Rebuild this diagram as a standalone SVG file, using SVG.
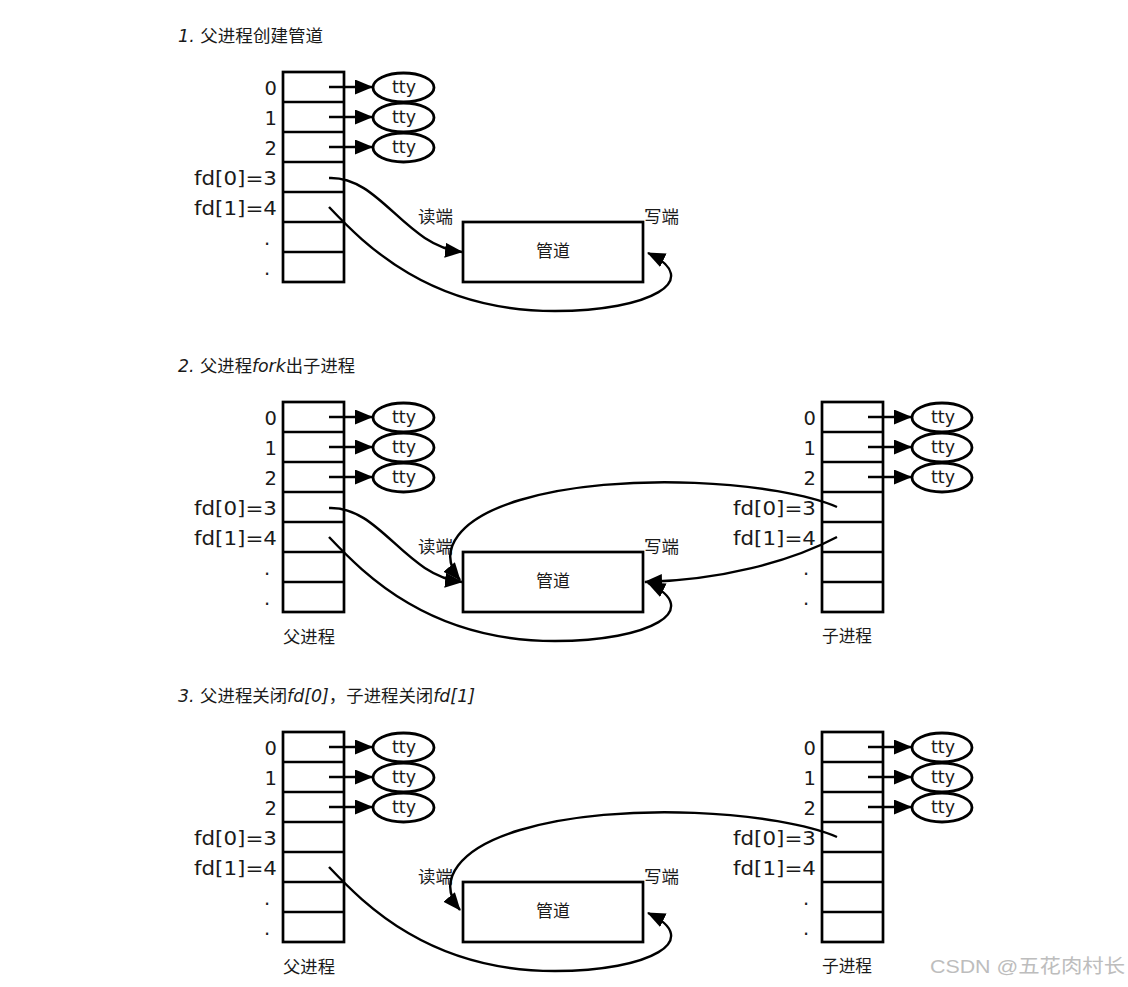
<svg xmlns="http://www.w3.org/2000/svg" width="1128" height="987" viewBox="0 0 1128 987">
<style>
.bg{fill:#fff}
.box{fill:none;stroke:#000;stroke-width:2.7}
.el{fill:#fff;stroke:#000;stroke-width:2.8}
.ln{fill:none;stroke:#000;stroke-width:2.4}
.lbl{font-family:"DejaVu Sans","Noto Sans",sans-serif;font-size:19.5px;fill:#1a1a1a}
.num{text-anchor:end}
.dot{text-anchor:middle}
.tty{font-family:"DejaVu Sans","Noto Sans",sans-serif;font-size:17.5px;fill:#1a1a1a;text-anchor:middle}
.cjk{font-family:"Noto Sans CJK SC","DejaVu Sans",sans-serif;font-size:17px;fill:#1a1a1a}
.title{font-family:"DejaVu Sans","Noto Sans CJK SC",sans-serif;font-size:17px;fill:#1a1a1a}
.it{font-style:italic}
.wm{font-family:"Liberation Sans","Noto Sans CJK SC",sans-serif;font-size:19px;fill:#bdbdbd}
</style>
<defs>
<marker id="ah" markerUnits="userSpaceOnUse" markerWidth="20" markerHeight="17" refX="17" refY="7.5" orient="auto">
<path d="M0,0 L18,7.5 L0,15 z" fill="#000"/>
</marker>
</defs>
<rect class="bg" x="0" y="0" width="1128" height="987"/>

<!-- ============ PANEL 1 ============ -->
<g id="panel1">
<text id="title1" class="title" x="178" y="42" textLength="145" lengthAdjust="spacingAndGlyphs"><tspan class="it">1.</tspan> 父进程创建管道</text>
<g id="p1-parent">
<rect class="box" x="283" y="72" width="61" height="210"/>
<path class="box" d="M283,102H344M283,132H344M283,162H344M283,192H344M283,222H344M283,252H344"/>
<text class="lbl num" x="277" y="95">0</text>
<text class="lbl num" x="277" y="125">1</text>
<text class="lbl num" x="277" y="155">2</text>
<text class="lbl" x="194" y="185" textLength="83" lengthAdjust="spacingAndGlyphs">fd[0]=3</text>
<text class="lbl" x="194" y="215" textLength="83" lengthAdjust="spacingAndGlyphs">fd[1]=4</text>
<text class="lbl dot" x="267" y="245">.</text>
<text class="lbl dot" x="267" y="275">.</text>
</g>
<g id="p1-tty0"><ellipse class="el" cx="403.5" cy="87.5" rx="30.5" ry="14.5"/><text class="tty" x="404" y="93">tty</text></g>
<g id="p1-tty1"><ellipse class="el" cx="403.5" cy="117.5" rx="30.5" ry="14.5"/><text class="tty" x="404" y="123">tty</text></g>
<g id="p1-tty2"><ellipse class="el" cx="403.5" cy="147.5" rx="30.5" ry="14.5"/><text class="tty" x="404" y="153">tty</text></g>
<g id="p1-pipe">
<rect class="box" x="463" y="222" width="180" height="60"/>
<text class="cjk" x="536" y="257" textLength="34" lengthAdjust="spacingAndGlyphs">管道</text>
<text class="cjk" x="418" y="223" textLength="35" lengthAdjust="spacingAndGlyphs">读端</text>
<text class="cjk" x="644" y="223" textLength="35" lengthAdjust="spacingAndGlyphs">写端</text>
</g>
<g id="p1-connectors">
<path class="ln" marker-end="url(#ah)" d="M329,87H372"/>
<path class="ln" marker-end="url(#ah)" d="M329,117H372"/>
<path class="ln" marker-end="url(#ah)" d="M329,147H372"/>
<path class="ln" marker-end="url(#ah)" d="M329,178 C380,176 405,246 462,252"/>
<path class="ln" marker-end="url(#ah)" d="M329,207 C365,245 430,311 555,311 C650,311 705,280 648,253"/>
</g>
</g>

<!-- ============ PANEL 2 ============ -->
<g id="panel2" transform="translate(0,330)">
<text id="title2" class="title" x="178" y="42" textLength="177" lengthAdjust="spacingAndGlyphs"><tspan class="it">2.</tspan> 父进程<tspan class="it">fork</tspan>出子进程</text>
<g id="p2-parent">
<rect class="box" x="283" y="72" width="61" height="210"/>
<path class="box" d="M283,102H344M283,132H344M283,162H344M283,192H344M283,222H344M283,252H344"/>
<text class="lbl num" x="277" y="95">0</text>
<text class="lbl num" x="277" y="125">1</text>
<text class="lbl num" x="277" y="155">2</text>
<text class="lbl" x="194" y="185" textLength="83" lengthAdjust="spacingAndGlyphs">fd[0]=3</text>
<text class="lbl" x="194" y="215" textLength="83" lengthAdjust="spacingAndGlyphs">fd[1]=4</text>
<text class="lbl dot" x="267" y="245">.</text>
<text class="lbl dot" x="267" y="275">.</text>
<text class="cjk" x="283" y="313" textLength="52" lengthAdjust="spacingAndGlyphs">父进程</text>
</g>
<g id="p2-ptty0"><ellipse class="el" cx="403.5" cy="87.5" rx="30.5" ry="14.5"/><text class="tty" x="404" y="93">tty</text></g>
<g id="p2-ptty1"><ellipse class="el" cx="403.5" cy="117.5" rx="30.5" ry="14.5"/><text class="tty" x="404" y="123">tty</text></g>
<g id="p2-ptty2"><ellipse class="el" cx="403.5" cy="147.5" rx="30.5" ry="14.5"/><text class="tty" x="404" y="153">tty</text></g>
<g id="p2-child">
<rect class="box" x="822" y="72" width="61" height="210"/>
<path class="box" d="M822,102H883M822,132H883M822,162H883M822,192H883M822,222H883M822,252H883"/>
<text class="lbl num" x="816" y="95">0</text>
<text class="lbl num" x="816" y="125">1</text>
<text class="lbl num" x="816" y="155">2</text>
<text class="lbl" x="733" y="185" textLength="83" lengthAdjust="spacingAndGlyphs">fd[0]=3</text>
<text class="lbl" x="733" y="215" textLength="83" lengthAdjust="spacingAndGlyphs">fd[1]=4</text>
<text class="lbl dot" x="806" y="245">.</text>
<text class="lbl dot" x="806" y="275">.</text>
<text class="cjk" x="822" y="312" textLength="50" lengthAdjust="spacingAndGlyphs">子进程</text>
</g>
<g id="p2-ctty0"><ellipse class="el" cx="942" cy="87.5" rx="30" ry="14.5"/><text class="tty" x="943" y="93">tty</text></g>
<g id="p2-ctty1"><ellipse class="el" cx="942" cy="117.5" rx="30" ry="14.5"/><text class="tty" x="943" y="123">tty</text></g>
<g id="p2-ctty2"><ellipse class="el" cx="942" cy="147.5" rx="30" ry="14.5"/><text class="tty" x="943" y="153">tty</text></g>
<g id="p2-pipe">
<rect class="box" x="463" y="222" width="180" height="60"/>
<text class="cjk" x="536" y="257" textLength="34" lengthAdjust="spacingAndGlyphs">管道</text>
<text class="cjk" x="418" y="223" textLength="35" lengthAdjust="spacingAndGlyphs">读端</text>
<text class="cjk" x="644" y="223" textLength="35" lengthAdjust="spacingAndGlyphs">写端</text>
</g>
<g id="p2-connectors">
<path class="ln" marker-end="url(#ah)" d="M329,87H372"/>
<path class="ln" marker-end="url(#ah)" d="M329,117H372"/>
<path class="ln" marker-end="url(#ah)" d="M329,147H372"/>
<path class="ln" marker-end="url(#ah)" d="M868,87H911"/>
<path class="ln" marker-end="url(#ah)" d="M868,117H911"/>
<path class="ln" marker-end="url(#ah)" d="M868,147H911"/>
<path class="ln" marker-end="url(#ah)" d="M329,178 C380,176 405,246 462,252"/>
<path class="ln" marker-end="url(#ah)" d="M329,207 C365,245 430,311 555,311 C650,311 705,280 648,253"/>
<path class="ln" marker-end="url(#ah)" d="M837,177 C780,152 620,140 520,170 C460,188 435,220 460,250"/>
<path class="ln" marker-end="url(#ah)" d="M837,207 C790,232 720,250 645,252"/>
</g>
</g>

<!-- ============ PANEL 3 ============ -->
<g id="panel3" transform="translate(0,660)">
<text id="title3" class="title" x="178" y="42" textLength="297" lengthAdjust="spacingAndGlyphs"><tspan class="it">3.</tspan> 父进程关闭<tspan class="it">fd[0]</tspan>，子进程关闭<tspan class="it">fd[1]</tspan></text>
<g id="p3-parent">
<rect class="box" x="283" y="72" width="61" height="210"/>
<path class="box" d="M283,102H344M283,132H344M283,162H344M283,192H344M283,222H344M283,252H344"/>
<text class="lbl num" x="277" y="95">0</text>
<text class="lbl num" x="277" y="125">1</text>
<text class="lbl num" x="277" y="155">2</text>
<text class="lbl" x="194" y="185" textLength="83" lengthAdjust="spacingAndGlyphs">fd[0]=3</text>
<text class="lbl" x="194" y="215" textLength="83" lengthAdjust="spacingAndGlyphs">fd[1]=4</text>
<text class="lbl dot" x="267" y="245">.</text>
<text class="lbl dot" x="267" y="275">.</text>
<text class="cjk" x="283" y="313" textLength="52" lengthAdjust="spacingAndGlyphs">父进程</text>
</g>
<g id="p3-ptty0"><ellipse class="el" cx="403.5" cy="87.5" rx="30.5" ry="14.5"/><text class="tty" x="404" y="93">tty</text></g>
<g id="p3-ptty1"><ellipse class="el" cx="403.5" cy="117.5" rx="30.5" ry="14.5"/><text class="tty" x="404" y="123">tty</text></g>
<g id="p3-ptty2"><ellipse class="el" cx="403.5" cy="147.5" rx="30.5" ry="14.5"/><text class="tty" x="404" y="153">tty</text></g>
<g id="p3-child">
<rect class="box" x="822" y="72" width="61" height="210"/>
<path class="box" d="M822,102H883M822,132H883M822,162H883M822,192H883M822,222H883M822,252H883"/>
<text class="lbl num" x="816" y="95">0</text>
<text class="lbl num" x="816" y="125">1</text>
<text class="lbl num" x="816" y="155">2</text>
<text class="lbl" x="733" y="185" textLength="83" lengthAdjust="spacingAndGlyphs">fd[0]=3</text>
<text class="lbl" x="733" y="215" textLength="83" lengthAdjust="spacingAndGlyphs">fd[1]=4</text>
<text class="lbl dot" x="806" y="245">.</text>
<text class="lbl dot" x="806" y="275">.</text>
<text class="cjk" x="822" y="312" textLength="50" lengthAdjust="spacingAndGlyphs">子进程</text>
</g>
<g id="p3-ctty0"><ellipse class="el" cx="942" cy="87.5" rx="30" ry="14.5"/><text class="tty" x="943" y="93">tty</text></g>
<g id="p3-ctty1"><ellipse class="el" cx="942" cy="117.5" rx="30" ry="14.5"/><text class="tty" x="943" y="123">tty</text></g>
<g id="p3-ctty2"><ellipse class="el" cx="942" cy="147.5" rx="30" ry="14.5"/><text class="tty" x="943" y="153">tty</text></g>
<g id="p3-pipe">
<rect class="box" x="463" y="222" width="180" height="60"/>
<text class="cjk" x="536" y="257" textLength="34" lengthAdjust="spacingAndGlyphs">管道</text>
<text class="cjk" x="418" y="223" textLength="35" lengthAdjust="spacingAndGlyphs">读端</text>
<text class="cjk" x="644" y="223" textLength="35" lengthAdjust="spacingAndGlyphs">写端</text>
</g>
<g id="p3-connectors">
<path class="ln" marker-end="url(#ah)" d="M329,87H372"/>
<path class="ln" marker-end="url(#ah)" d="M329,117H372"/>
<path class="ln" marker-end="url(#ah)" d="M329,147H372"/>
<path class="ln" marker-end="url(#ah)" d="M868,87H911"/>
<path class="ln" marker-end="url(#ah)" d="M868,117H911"/>
<path class="ln" marker-end="url(#ah)" d="M868,147H911"/>
<path class="ln" marker-end="url(#ah)" d="M329,207 C365,245 430,311 555,311 C650,311 705,280 648,253"/>
<path class="ln" marker-end="url(#ah)" d="M837,177 C780,152 620,140 520,170 C460,188 435,220 460,250"/>
</g>
</g>

<text id="watermark" class="wm" x="930" y="973" textLength="195" lengthAdjust="spacingAndGlyphs">CSDN @五花肉村长</text>
</svg>
